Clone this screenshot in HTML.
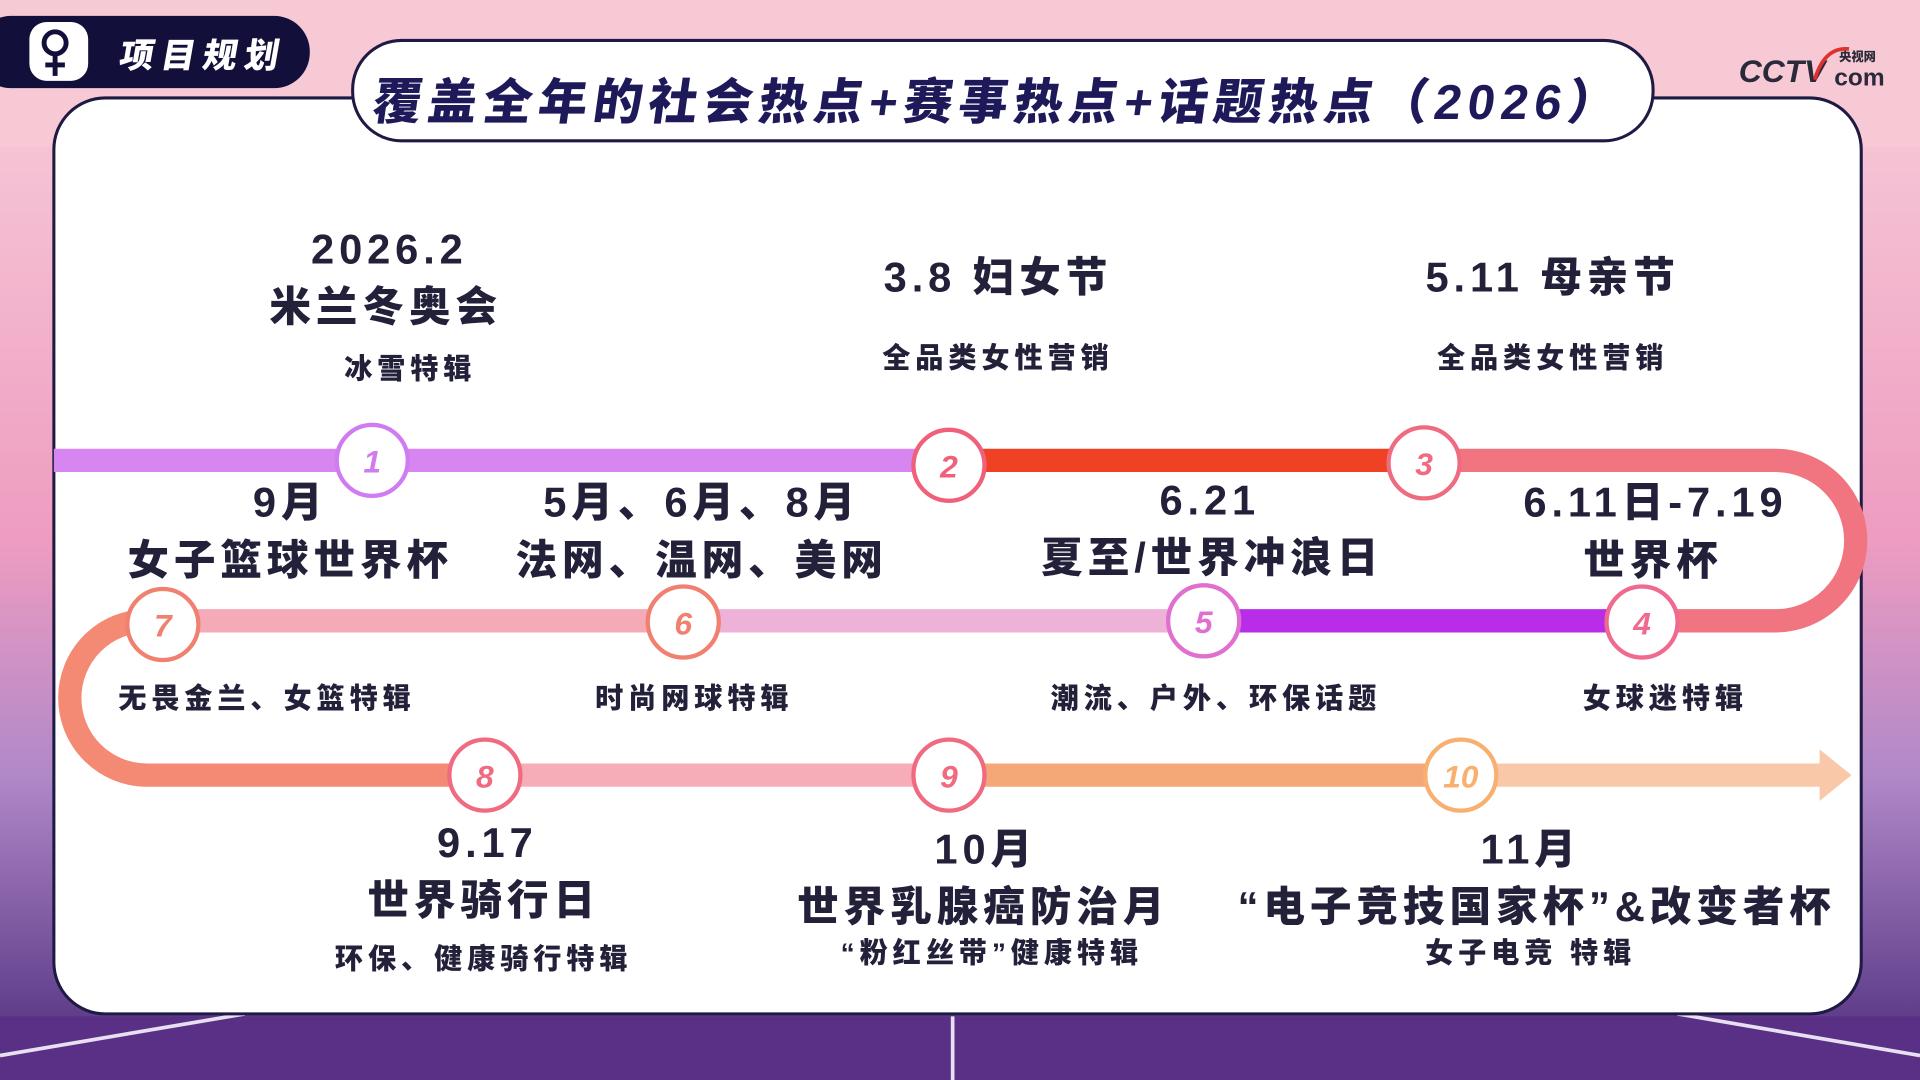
<!DOCTYPE html>
<html><head><meta charset="utf-8"><style>
html,body{margin:0;padding:0;width:1920px;height:1080px;overflow:hidden;background:#f3c3d2}
#w{width:1568px;height:882px;transform:scale(1.22449);transform-origin:0 0}
text{font-family:"Liberation Sans","Noto Sans CJK SC",sans-serif;font-weight:900;fill:#23213a}
</style></head><body><div id="w">
<svg width="1568" height="882" viewBox="0 0 1568 882" xmlns="http://www.w3.org/2000/svg">
<defs>
<linearGradient id="bg" x1="0" y1="0" x2="0" y2="1">
<stop offset="0" stop-color="#f8d2dc"/><stop offset="0.5" stop-color="#ee9cc0"/><stop offset="0.72" stop-color="#b088c8"/><stop offset="1" stop-color="#4a2a7a"/>
</linearGradient>
</defs>
<rect width="1568" height="882" fill="url(#bg)"/>
<rect x="0" y="0" width="1568" height="120" fill="#f7c9d5"/>
<polygon points="0,830 1568,830 1568,882 0,882" fill="#5a2f86"/>
<line x1="778" y1="830" x2="778" y2="882" stroke="#e8e0f0" stroke-width="3"/>
<line x1="0" y1="862" x2="200" y2="828" stroke="#e8e0f0" stroke-width="3"/>
<line x1="1568" y1="862" x2="1370" y2="828" stroke="#e8e0f0" stroke-width="3"/>
<rect x="44" y="80" width="1476" height="748" rx="42" fill="#fff" stroke="#1e1a44" stroke-width="2.5"/>
<rect x="-20" y="13" width="273" height="59" rx="29" fill="#12103a"/>
<rect x="24" y="18" width="48" height="48" rx="14" fill="#fff"/>
<circle cx="45" cy="35" r="9" fill="none" stroke="#12103a" stroke-width="4"/>
<line x1="45" y1="44" x2="45" y2="62" stroke="#12103a" stroke-width="4"/><line x1="37" y1="53" x2="53" y2="53" stroke="#12103a" stroke-width="4"/>
<text x="165" y="55" font-size="28" text-anchor="middle" style="fill:#fff" letter-spacing="6" transform="skewX(-10) translate(9,0)">项目规划</text>
<rect x="288" y="33" width="1062" height="82" rx="40" fill="#fff" stroke="#1e1a44" stroke-width="2.5"/>
<text x="815" y="97" font-size="40" text-anchor="middle" letter-spacing="5" style="fill:#1e1a5a" transform="skewX(-8) translate(12,0)">覆盖全年的社会热点+赛事热点+话题热点（2026）</text>
<text x="1420" y="67" font-size="26" style="fill:#2a2a3a" font-style="italic">CCTV</text>
<text x="1498" y="70" font-size="20" style="fill:#2a2a3a">com</text>
<text x="1502" y="50" font-size="10" style="fill:#2a2a3a">央视网</text>
<path d="M1482 65 Q1490 38 1510 40" fill="none" stroke="#e03030" stroke-width="3"/>
<g fill="none" stroke-width="19">
<line x1="44" y1="376" x2="775" y2="376" stroke="#d785f0"/>
<line x1="775" y1="376" x2="1163" y2="376" stroke="#ef4123"/>
<path d="M1163 376 H1450 A65.5 65.5 0 0 1 1450 507 H1341" stroke="#f07580"/>
<line x1="1341" y1="507" x2="983" y2="507" stroke="#b92de8"/>
<line x1="983" y1="507" x2="558" y2="507" stroke="#eeb2d8"/>
<line x1="558" y1="507" x2="133" y2="507" stroke="#f5aab8"/>
<path d="M133 507 H120 A63 63 0 0 0 120 633 H396" stroke="#f48a74"/>
<line x1="396" y1="633" x2="775" y2="633" stroke="#f6adb8"/>
<line x1="775" y1="633" x2="1193" y2="633" stroke="#f4a878"/>
<line x1="1193" y1="633" x2="1488" y2="633" stroke="#f9c8a8"/>
</g>
<polygon points="1486,612 1512,633 1486,654" fill="#f9c8a8"/>
<g stroke-width="3.5" fill="#fff">
<circle cx="304" cy="376" r="29" stroke="#d07cf0"/>
<circle cx="775" cy="380" r="29" stroke="#f0607a"/>
<circle cx="1163" cy="378" r="29" stroke="#f06a80"/>
<circle cx="1341" cy="508" r="29" stroke="#f06a90"/>
<circle cx="983" cy="507" r="29" stroke="#e070d0"/>
<circle cx="558" cy="508" r="29" stroke="#f08070"/>
<circle cx="133" cy="510" r="29" stroke="#f08070"/>
<circle cx="396" cy="633" r="29" stroke="#f06a80"/>
<circle cx="775" cy="633" r="29" stroke="#f06a80"/>
<circle cx="1193" cy="633" r="29" stroke="#f8b070"/>
</g>
<g font-size="26" text-anchor="middle" font-style="italic">
<text x="304" y="386" style="fill:#d07cf0">1</text>
<text x="775" y="390" style="fill:#f0607a">2</text>
<text x="1163" y="388" style="fill:#f06a80">3</text>
<text x="1341" y="518" style="fill:#f06a90">4</text>
<text x="983" y="517" style="fill:#e070d0">5</text>
<text x="558" y="518" style="fill:#f08070">6</text>
<text x="133" y="520" style="fill:#f08070">7</text>
<text x="396" y="643" style="fill:#f06a80">8</text>
<text x="775" y="643" style="fill:#f06a80">9</text>
<text x="1193" y="643" style="fill:#f8b070">10</text>
</g>
<g text-anchor="middle" font-size="34" letter-spacing="4">
<text x="318" y="215">2026.2</text>
<text x="315" y="262">米兰冬奥会</text>
<text x="815" y="238">3.8 妇女节</text>
<text x="1268" y="238">5.11 母亲节</text>
<text x="237" y="422">9月</text>
<text x="237" y="469">女子篮球世界杯</text>
<text x="573" y="422">5月、6月、8月</text>
<text x="573" y="469">法网、温网、美网</text>
<text x="988" y="420">6.21</text>
<text x="990" y="467">夏至/世界冲浪日</text>
<text x="1352" y="422">6.11日-7.19</text>
<text x="1350" y="469">世界杯</text>
<text x="398" y="700">9.17</text>
<text x="395" y="747">世界骑行日</text>
<text x="805" y="705">10月</text>
<text x="803" y="752">世界乳腺癌防治月</text>
<text x="1250" y="705">11月</text>
<text x="1255" y="752">“电子竞技国家杯”&amp;改变者杯</text>
</g>
<g text-anchor="middle" font-size="23" letter-spacing="4">
<text x="335" y="309">冰雪特辑</text>
<text x="815" y="300">全品类女性营销</text>
<text x="1268" y="300">全品类女性营销</text>
<text x="218" y="578">无畏金兰、女篮特辑</text>
<text x="567" y="578">时尚网球特辑</text>
<text x="993" y="578">潮流、户外、环保话题</text>
<text x="1360" y="578">女球迷特辑</text>
<text x="395" y="791">环保、健康骑行特辑</text>
<text x="810" y="786">“粉红丝带”健康特辑</text>
<text x="1250" y="786">女子电竞 特辑</text>
</g>
</svg></div></body></html>
